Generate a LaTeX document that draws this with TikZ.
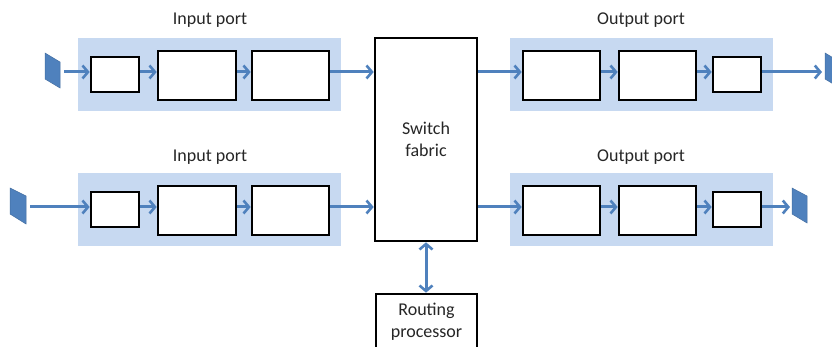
\documentclass[tikz,border=0pt]{standalone}
\usepackage{fontspec}
\setmainfont{Carlito}
\usetikzlibrary{arrows.meta}
\definecolor{band}{RGB}{199,217,241}
\definecolor{arr}{RGB}{79,129,189}
\tikzset{
  bandbox/.style={fill=band, draw=none, inner sep=0pt},
  blk/.style={draw=black, line width=2.6pt, fill=white, inner sep=0pt},
  flow/.style={draw=arr, line width=3pt, -{Straight Barb[length=5.5pt,width=13pt,line width=2.6pt]}},
  flow2/.style={draw=arr, line width=3pt, {Straight Barb[length=5.5pt,width=13pt,line width=2.6pt]}-{Straight Barb[length=5.5pt,width=13pt,line width=2.6pt]}},
  portshape/.style={fill=arr, draw=arr!85!black, line width=0.5pt},
  lbl/.style={font=\fontsize{18}{22}\selectfont, text=black!85, align=center, inner sep=0pt}
}
\begin{document}
\begin{tikzpicture}[x=1pt,y=-1pt]
\useasboundingbox (0,0) rectangle (832,347);
% bands
\foreach \dy/\n in {0/T,135/B}{
  \node[bandbox, minimum width=263pt, minimum height=73pt] (inband\n) at (209.5,74.5+\dy) {};
  \node[bandbox, minimum width=263pt, minimum height=73pt] (outband\n) at (641.5,74.5+\dy) {};
}
% labels
\node[lbl] (inlblT) at (210,20) {Input port};
\node[lbl] (outlblT) at (641,20) {Output port};
\node[lbl] (inlblB) at (210,157) {Input port};
\node[lbl] (outlblB) at (641,157) {Output port};
% row coordinates
\coordinate (rowT) at (0,72);
\coordinate (rowB) at (0,207);
\foreach \dy/\n in {0/T,135/B}{
  \node[blk, minimum width=48pt, minimum height=35pt] (ia\n) at (115,74.5+\dy) {};
  \node[blk, minimum width=78pt, minimum height=49pt] (ib\n) at (197,75.5+\dy) {};
  \node[blk, minimum width=77pt, minimum height=49pt] (ic\n) at (290.5,75.5+\dy) {};
  \node[blk, minimum width=77pt, minimum height=49pt] (oa\n) at (561.5,75.5+\dy) {};
  \node[blk, minimum width=77pt, minimum height=49pt] (ob\n) at (657.5,75.5+\dy) {};
  \node[blk, minimum width=48pt, minimum height=35pt] (oc\n) at (737,74.5+\dy) {};
}
% switch fabric and routing processor
\node[blk, minimum width=102pt, minimum height=203pt, lbl] (sw) at (426,139.5) {Switch\\fabric};
\node[blk, minimum width=101pt, minimum height=56pt, lbl] (rp) at (426.5,322) {Routing\\processor};
% ports
\path[portshape] (45,53) -- (60,62) -- (60,88) -- (45,79) -- cycle;
\path[portshape] (10,188) -- (26,196) -- (26,224) -- (10,214) -- cycle;
\path[portshape] (825,53) -- (840,62) -- (840,88) -- (825,79) -- cycle;
\path[portshape] (792,188) -- (807,196) -- (807,223) -- (792,214) -- cycle;
\coordinate (pinT) at (64,72);
\coordinate (pinB) at (30,207);
\coordinate (poutT) at (822,72);
\coordinate (poutB) at (790,207);
% arrows
\foreach \n in {T,B}{
  \draw[flow] (pin\n) -- (ia\n.west |- row\n);
  \draw[flow] (ia\n.east |- row\n) -- (ib\n.west |- row\n);
  \draw[flow] (ib\n.east |- row\n) -- (ic\n.west |- row\n);
  \draw[flow] (ic\n.east |- row\n) -- (sw.west |- row\n);
  \draw[flow] (sw.east |- row\n) -- (oa\n.west |- row\n);
  \draw[flow] (oa\n.east |- row\n) -- (ob\n.west |- row\n);
  \draw[flow] (ob\n.east |- row\n) -- (oc\n.west |- row\n);
  \draw[flow] (oc\n.east |- row\n) -- (pout\n);
}
\draw[flow2] (sw.south) -- (rp.north -| sw.south);
\end{tikzpicture}
\end{document}
